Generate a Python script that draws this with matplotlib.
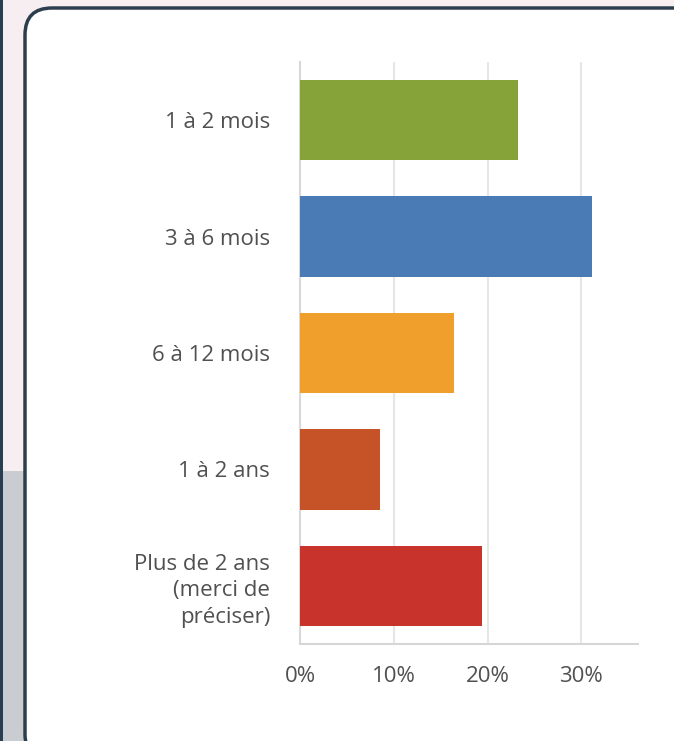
import matplotlib
matplotlib.use("Agg")
import matplotlib.pyplot as plt
from matplotlib.patches import FancyBboxPatch, Rectangle

categories = ["1 à 2 mois", "3 à 6 mois", "6 à 12 mois", "1 à 2 ans",
              "Plus de 2 ans\n(merci de\npréciser)"]
values = [23.2, 31.1, 16.4, 8.5, 19.4]
colors = ["#86a33a", "#4b7bb5", "#f09f2c", "#c65228", "#c8332c"]
xticks = [0, 10, 20, 30]
xticklabels = ["0%", "10%", "20%", "30%"]

plt.rcParams['font.family'] = ['Open Sans', 'DejaVu Sans']

W, H = 674, 741
fig = plt.figure(figsize=(W / 100, H / 100), dpi=100)

# background strip (photo-like)
fig.patches.append(Rectangle((0, 0), 1, 1, transform=fig.transFigure,
                             facecolor="#f7eef1", edgecolor="none", zorder=0))
fig.patches.append(Rectangle((0, 0), 25 / W, 270 / H, transform=fig.transFigure,
                             facecolor="#c9ccd0", edgecolor="none", zorder=0))
# previous box border at left
fig.patches.append(Rectangle((0, 0), 3 / W, 1, transform=fig.transFigure,
                             facecolor="#2c3e4e", edgecolor="none", zorder=1))
# main white rounded card
fig.patches.append(FancyBboxPatch((25 / W, -20 / H), 700 / W, (741 - 8 + 20) / H,
                                  boxstyle="round,pad=0,rounding_size=0.04",
                                  transform=fig.transFigure, mutation_aspect=W / H,
                                  facecolor="white", edgecolor="#2c3e4e",
                                  linewidth=2.5, zorder=2))

ax = fig.add_axes([300 / W, 1 - 644 / H, (637.7 - 300) / W, (644 - 62) / H])
ax.set_zorder(3)
ax.patch.set_alpha(0)
y = list(range(len(categories)))
ax.barh(y, values, height=0.69, color=colors, zorder=3)
ax.set_ylim(4.5, -0.5)
ax.set_xlim(0, 36)
ax.set_xticks(xticks)
ax.set_xticklabels(xticklabels)
ax.set_yticks(y)
ax.set_yticklabels(categories, ha="right", multialignment="right",
                   linespacing=1.33)
ax.tick_params(axis="y", length=0, pad=21.5, labelsize=16, labelcolor="#505050")
ax.tick_params(axis="x", length=0, pad=15.5, labelsize=16, labelcolor="#505050")
ax.grid(axis="x", color="#e6e6e6", linewidth=1.5, zorder=0)
ax.set_axisbelow(True)
for s in ["top", "right"]:
    ax.spines[s].set_visible(False)
ax.spines["left"].set_color("#d9d9d9")
ax.spines["left"].set_linewidth(1.5)
ax.spines["bottom"].set_color("#d6d6d6")
ax.spines["bottom"].set_linewidth(1.5)

fig.savefig("out.png", dpi=100)
